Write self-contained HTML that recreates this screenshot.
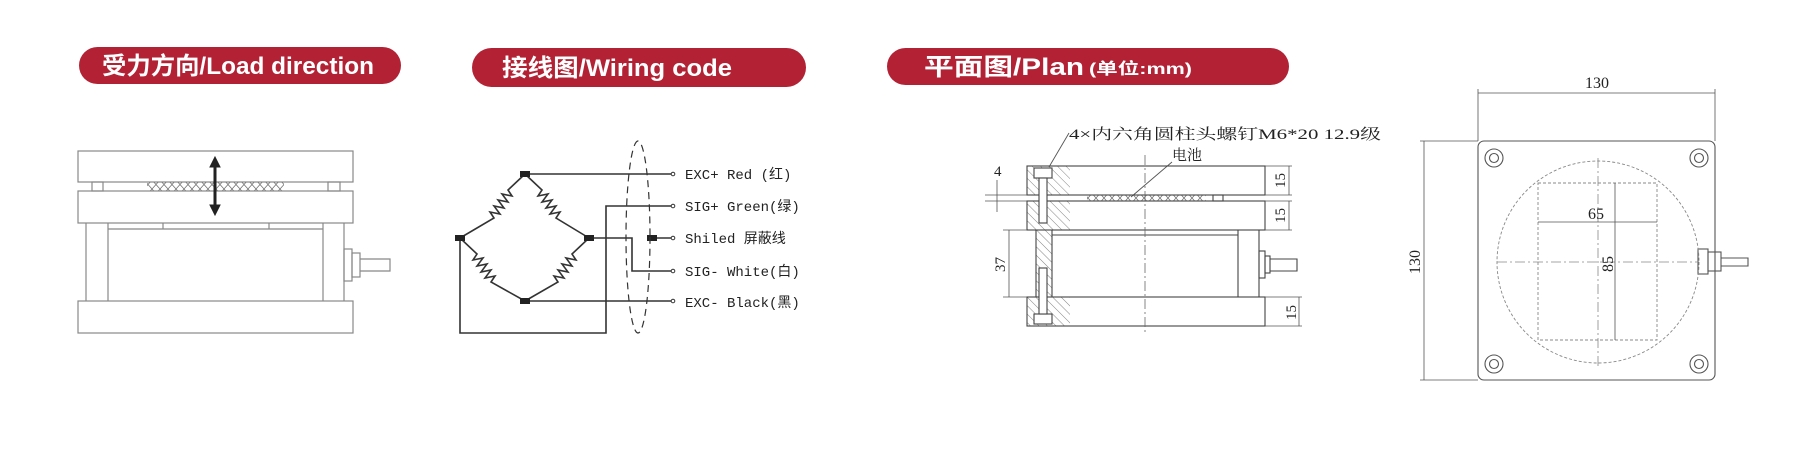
<!DOCTYPE html>
<html><head><meta charset="utf-8"><style>
html,body{margin:0;padding:0;background:#fff;}
svg{display:block;}
.pill{font-family:"Liberation Sans","Noto Sans CJK SC",sans-serif;font-weight:bold;fill:#fff;}
.lbl{font-family:"Liberation Mono","Noto Sans CJK SC",monospace;font-size:14px;fill:#222;}
.dim{font-family:"Liberation Serif","Noto Serif CJK SC",serif;font-size:15px;fill:#222;}
</style></head><body>
<svg width="1814" height="454" viewBox="0 0 1814 454" xmlns="http://www.w3.org/2000/svg">
<defs>
<pattern id="xh" width="8" height="9" patternUnits="userSpaceOnUse">
<path d="M0 0L8 9M8 0L0 9" stroke="#777" stroke-width="0.8"/></pattern>
<pattern id="dh" width="6" height="6" patternUnits="userSpaceOnUse" patternTransform="rotate(-45)">
<line x1="0" y1="0" x2="0" y2="6" stroke="#666" stroke-width="0.8"/></pattern>
</defs>
<!-- pills -->
<rect x="79" y="47" width="322" height="37" rx="18.5" fill="#b22234"/>
<text class="pill" x="102" y="74" font-size="24" textLength="272" lengthAdjust="spacingAndGlyphs">受力方向/Load direction</text>
<rect x="472" y="48" width="334" height="39" rx="19.5" fill="#b22234"/>
<text class="pill" x="502" y="76" font-size="24" textLength="230" lengthAdjust="spacingAndGlyphs">接线图/Wiring code</text>
<rect x="887" y="48" width="402" height="37" rx="18.5" fill="#b22234"/>
<text class="pill" x="924" y="75" font-size="24" textLength="160" lengthAdjust="spacingAndGlyphs">平面图/Plan</text>
<text class="pill" x="1089" y="74" font-size="16" textLength="103" lengthAdjust="spacingAndGlyphs">(单位:mm)</text>

<!-- load direction -->
<g stroke="#888" stroke-width="1.2" fill="none">
<rect x="78" y="151" width="275" height="31"/>
<rect x="78" y="191" width="275" height="32"/>
<rect x="78" y="301" width="275" height="32"/>
<rect x="92" y="182" width="11" height="9"/>
<rect x="328" y="182" width="12" height="9"/>
<line x1="86" y1="223" x2="86" y2="301"/><line x1="344" y1="223" x2="344" y2="301"/>
<line x1="108" y1="223" x2="108" y2="301"/><line x1="323" y1="223" x2="323" y2="301"/>
<line x1="108" y1="229" x2="323" y2="229"/>
<line x1="163" y1="223" x2="163" y2="229"/><line x1="269" y1="223" x2="269" y2="229"/>
<rect x="344" y="249" width="8" height="32"/><rect x="352" y="253" width="8" height="24"/>
<path d="M360 259H390V271H360"/>
</g>
<rect x="147" y="182" width="137" height="9" fill="url(#xh)"/>
<g fill="#222" stroke="#222">
<line x1="215" y1="164" x2="215" y2="209" stroke-width="3"/>
<path d="M215 157L210 167H220Z"/><path d="M215 215L210 205H220Z"/>
</g>

<!-- wiring -->
<g stroke="#333" stroke-width="1.6" fill="none">
<path d="M525 174L542 190 l-4 6 10 -2 -6 8 10 -2 -6 8 10 -2 -6 8 10 -2 -4 6 L589 238"/>
<path d="M525 174L508 190 l4 6 -10 -2 6 8 -10 -2 6 8 -10 -2 6 8 -10 -2 4 6 L460 238"/>
<path d="M460 238L477 254 l-4 6 10 -2 -6 8 10 -2 -6 8 10 -2 -6 8 10 -2 -4 6 L525 301"/>
<path d="M589 238L572 254 l4 6 -10 -2 6 8 -10 -2 6 8 -10 -2 6 8 -10 -2 4 6 L525 301"/>
<path d="M525 174H672"/>
<path d="M460 238V333H606V206H672"/>
<path d="M589 238H632V271H672"/>
<path d="M652 238H672"/>
<path d="M525 301H672"/>
</g>
<g fill="#222">
<rect x="520" y="171" width="10" height="6"/><rect x="455" y="235" width="10" height="6"/>
<rect x="584" y="235" width="10" height="6"/><rect x="520" y="298" width="10" height="6"/>
<rect x="647" y="235" width="10" height="6"/>
</g>
<g fill="#fff" stroke="#333" stroke-width="1">
<circle cx="673" cy="174" r="1.8"/><circle cx="673" cy="206" r="1.8"/><circle cx="673" cy="238" r="1.8"/><circle cx="673" cy="271" r="1.8"/><circle cx="673" cy="301" r="1.8"/>
</g>
<ellipse cx="638" cy="237" rx="12" ry="96" fill="none" stroke="#333" stroke-width="1.2" stroke-dasharray="7 5"/>
<text class="lbl" x="685" y="179">EXC+ Red  (红)</text>
<text class="lbl" x="685" y="211">SIG+ Green(绿)</text>
<text class="lbl" x="685" y="243">Shiled  屏蔽线</text>
<text class="lbl" x="685" y="276">SIG- White(白)</text>
<text class="lbl" x="685" y="307">EXC- Black(黑)</text>

<!-- plan side view -->
<text class="dim" x="1069" y="139" font-size="15" textLength="312" lengthAdjust="spacingAndGlyphs">4×内六角圆柱头螺钉M6*20  12.9级</text>
<text class="dim" x="1172" y="160" font-size="15">电池</text>
<g stroke="#555" stroke-width="0.9" fill="none">
<line x1="1069" y1="133" x2="1049" y2="167"/>
<line x1="1172" y1="162" x2="1131" y2="197"/>
</g>
<rect x="1027" y="166" width="43" height="29" fill="url(#dh)"/>
<rect x="1027" y="201" width="43" height="29" fill="url(#dh)"/>
<rect x="1027" y="297" width="43" height="29" fill="url(#dh)"/>
<rect x="1036" y="230" width="16" height="67" fill="url(#dh)"/>
<rect x="1087" y="195" width="119" height="6" fill="url(#xh)"/>
<g stroke="#444" stroke-width="1.1" fill="none">
<rect x="1027" y="166" width="238" height="29"/>
<rect x="1027" y="201" width="238" height="29"/>
<rect x="1027" y="297" width="238" height="29"/>
<line x1="1036" y1="230" x2="1036" y2="297"/>
<line x1="1052" y1="230" x2="1052" y2="297"/><line x1="1238" y1="230" x2="1238" y2="297"/><line x1="1259" y1="230" x2="1259" y2="297"/>
<line x1="1052" y1="235" x2="1238" y2="235"/>
<rect x="1213" y="195" width="10" height="6"/>
<rect x="1034" y="168" width="18" height="10" fill="#fff"/>
<rect x="1034" y="314" width="18" height="10" fill="#fff"/>
<rect x="1039" y="178" width="8" height="45" fill="#fff"/>
<rect x="1039" y="268" width="8" height="46" fill="#fff"/>
<rect x="1259" y="251" width="6" height="27"/><rect x="1265" y="256" width="5" height="17"/>
<path d="M1270 259H1297V271H1270"/>
</g>
<line x1="1145" y1="155" x2="1145" y2="332" stroke="#666" stroke-width="0.8" stroke-dasharray="10 3 2 3"/>
<g stroke="#555" stroke-width="0.8" fill="none">
<path d="M1265 166H1292M1265 195H1292M1265 201H1292M1265 230H1292M1265 297H1302M1265 326H1302"/>
<path d="M1289 166V195M1289 201V230M1299 297V326"/>
<path d="M997 180V212M985 195H1027M985 201H1027"/>
<path d="M1009 230V297M1003 230H1027M1003 297H1027"/>
</g>
<g class="dim">
<text transform="translate(1285,188) rotate(-90)" font-size="15">15</text>
<text transform="translate(1285,223) rotate(-90)" font-size="15">15</text>
<text transform="translate(1296,320) rotate(-90)" font-size="15">15</text>
<text x="994" y="176" font-size="15">4</text>
<text transform="translate(1005,272) rotate(-90)" font-size="15">37</text>
</g>

<!-- plan top view -->
<g stroke="#555" stroke-width="1.1" fill="none">
<rect x="1478" y="141" width="237" height="239" rx="6"/>
<circle cx="1494" cy="158" r="9"/><circle cx="1494" cy="158" r="4.5"/>
<circle cx="1699" cy="158" r="9"/><circle cx="1699" cy="158" r="4.5"/>
<circle cx="1494" cy="364" r="9"/><circle cx="1494" cy="364" r="4.5"/>
<circle cx="1699" cy="364" r="9"/><circle cx="1699" cy="364" r="4.5"/>
<rect x="1698" y="249" width="10" height="25"/><rect x="1708" y="252" width="13" height="19"/>
<path d="M1721 258H1748V266H1721"/>
</g>
<g stroke="#888" stroke-width="0.9" fill="none" stroke-dasharray="3 2">
<circle cx="1598" cy="262" r="101"/>
<rect x="1538" y="183" width="119" height="157"/>
</g>
<g stroke="#888" stroke-width="0.8" stroke-dasharray="10 3 2 3">
<line x1="1598" y1="158" x2="1598" y2="367"/>
<line x1="1497" y1="262" x2="1698" y2="262"/>
</g>
<g stroke="#555" stroke-width="0.8" fill="none">
<path d="M1538 222H1657M1615 183V340"/>
<path d="M1478 93H1715M1478 89V141M1715 89V141"/>
<path d="M1424 141V380M1420 141H1478M1420 380H1478"/>
</g>
<g class="dim">
<text x="1588" y="219" font-size="16">65</text>
<text transform="translate(1613,272) rotate(-90)" font-size="16">85</text>
<text x="1585" y="88" font-size="16">130</text>
<text transform="translate(1420,274) rotate(-90)" font-size="16">130</text>
</g>
</svg>
</body></html>
